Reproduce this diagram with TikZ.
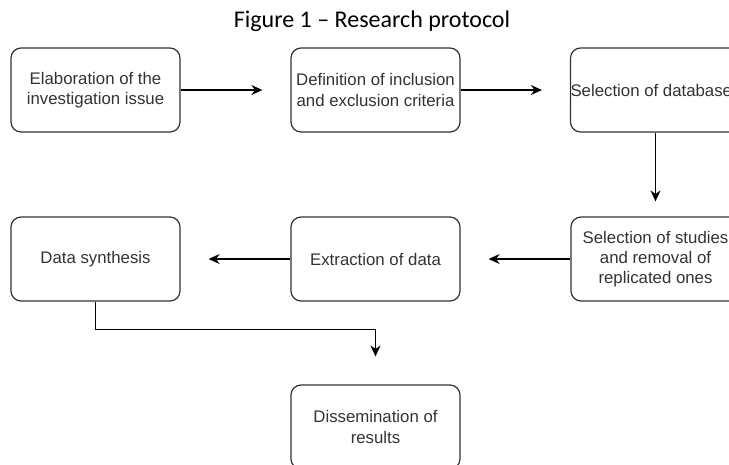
\documentclass[tikz,border=0pt]{standalone}
\usepackage{fontspec}
\setmainfont{Liberation Sans}
\newfontfamily\captionfont{Carlito}
\usetikzlibrary{arrows.meta,positioning}

\tikzset{
  stage/.style={draw=black!80, line width=1.2pt, rounded corners=10pt,
    minimum width=169pt, minimum height=84pt, inner sep=0pt,
    align=center, text=black!80, font=\fontsize{16.8}{20.2}\selectfont},
  flow/.style={-{Stealth[length=11pt,width=10pt]}, line width=1.2pt}
}

\begin{document}
\begin{tikzpicture}[x=1pt, y=-1pt]
  \useasboundingbox (0,0) rectangle (729,464);
  \clip (0,0) rectangle (729,464);

  % Title
  \node (title) [anchor=base, font=\captionfont\fontsize{24}{28}\selectfont]
    at (372,27) {Figure 1 – Research protocol};

  % Draw stages
  \node (issue) [stage] at (95.5,90) {Elaboration of the\\investigation issue};
  \node (criteria) [stage] at (375.5,90) {Definition of inclusion\\and exclusion criteria};
  \node (bases) [stage] at (655.5,90) {Selection of databases};
  \node (studies) [stage] at (655.5,259) {Selection of studies\\and removal of\\replicated ones};
  \node (extract) [stage] at (375.5,259) {Extraction of data};
  \node (synth) [stage] at (95.5,259) {Data synthesis};
  \node (dissem) [stage] at (375.5,427) {Dissemination of\\results};

  % Draw arrows
  \draw [flow, shorten >=28pt] (issue.east) -- (criteria.west);
  \draw [flow, shorten >=28pt] (criteria.east) -- (bases.west);
  \draw [flow, shorten >=15pt] (bases.south) -- (studies.north);
  \draw [flow, shorten >=28pt] (studies.west) -- (extract.east);
  \draw [flow, shorten >=28pt] (extract.west) -- (synth.east);
  \draw [flow, shorten >=28pt] (synth.south) -- ++(0,28) -| (dissem.north);
\end{tikzpicture}
\end{document}
